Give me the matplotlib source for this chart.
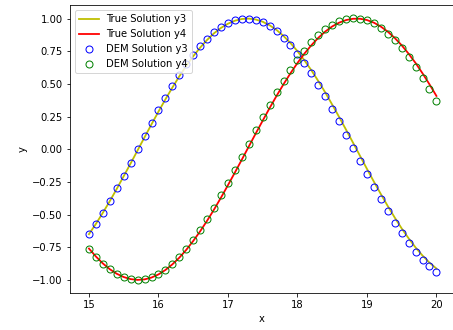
import numpy as np
import matplotlib
matplotlib.use("Agg")
import matplotlib.pyplot as plt

# time grid (step 0.1)
t = np.round(np.arange(150, 201) / 10.0, 1)

# true solution values
true_y3 = [-0.650, -0.571, -0.486, -0.397, -0.303, -0.206, -0.108, -0.008, 0.092, 0.191,
           0.288, 0.382, 0.472, 0.558, 0.638, 0.712, 0.778, 0.837, 0.888, 0.929,
           0.961, 0.984, 0.997, 1.000, 0.993, 0.976, 0.949, 0.913, 0.867, 0.813,
           0.751, 0.681, 0.605, 0.522, 0.435, 0.342, 0.247, 0.149, 0.050, -0.050,
           -0.150, -0.248, -0.343, -0.435, -0.523, -0.606, -0.682, -0.752, -0.814, -0.868,
           -0.913]
true_y4 = [-0.760, -0.821, -0.874, -0.918, -0.953, -0.978, -0.994, -1.000, -0.996, -0.982,
           -0.958, -0.924, -0.881, -0.830, -0.770, -0.702, -0.628, -0.547, -0.461, -0.370,
           -0.275, -0.178, -0.079, 0.021, 0.121, 0.219, 0.316, 0.409, 0.498, 0.582,
           0.660, 0.732, 0.796, 0.853, 0.901, 0.940, 0.969, 0.989, 0.999, 0.999,
           0.989, 0.969, 0.939, 0.900, 0.852, 0.796, 0.731, 0.660, 0.581, 0.497,
           0.408]

# DEM solution values
dem_y3 = [-0.650, -0.570, -0.485, -0.394, -0.299, -0.202, -0.102, -0.001, 0.100, 0.200,
          0.298, 0.392, 0.483, 0.569, 0.649, 0.722, 0.788, 0.847, 0.896, 0.937,
          0.968, 0.989, 1.000, 1.000, 0.991, 0.971, 0.942, 0.903, 0.854, 0.797,
          0.732, 0.660, 0.580, 0.495, 0.405, 0.311, 0.213, 0.112, 0.012, -0.089,
          -0.190, -0.289, -0.384, -0.476, -0.563, -0.644, -0.719, -0.787, -0.846, -0.897,
          -0.938]
dem_y4 = [-0.760, -0.822, -0.875, -0.919, -0.954, -0.980, -0.995, -1.000, -0.996, -0.981,
          -0.956, -0.921, -0.877, -0.824, -0.762, -0.693, -0.616, -0.534, -0.446, -0.353,
          -0.257, -0.158, -0.057, 0.044, 0.145, 0.245, 0.341, 0.435, 0.523, 0.607,
          0.684, 0.754, 0.818, 0.872, 0.918, 0.954, 0.981, 0.997, 1.004, 1.000,
          0.987, 0.963, 0.929, 0.886, 0.833, 0.773, 0.704, 0.628, 0.546, 0.459,
          0.367]

fig = plt.figure(figsize=(453 / 72, 330 / 72), dpi=72)
ax = fig.add_axes([69.5 / 453, 37 / 330, 385 / 453, 288 / 330])

ax.plot(t, true_y3, color='y', lw=1.8, label='True Solution y3')
ax.plot(t, true_y4, color='r', lw=1.8, label='True Solution y4')
ax.plot(t, dem_y3, 'o', ms=7, mfc='none', mec='b', label='DEM Solution y3')
ax.plot(t, dem_y4, 'o', ms=7, mfc='none', mec='g', label='DEM Solution y4')

ax.set_xlim(14.72, 20.26)
ax.set_xlabel('x')
ax.set_ylabel('y')
ax.legend(loc='upper left')

plt.savefig('out.png', dpi=72)
